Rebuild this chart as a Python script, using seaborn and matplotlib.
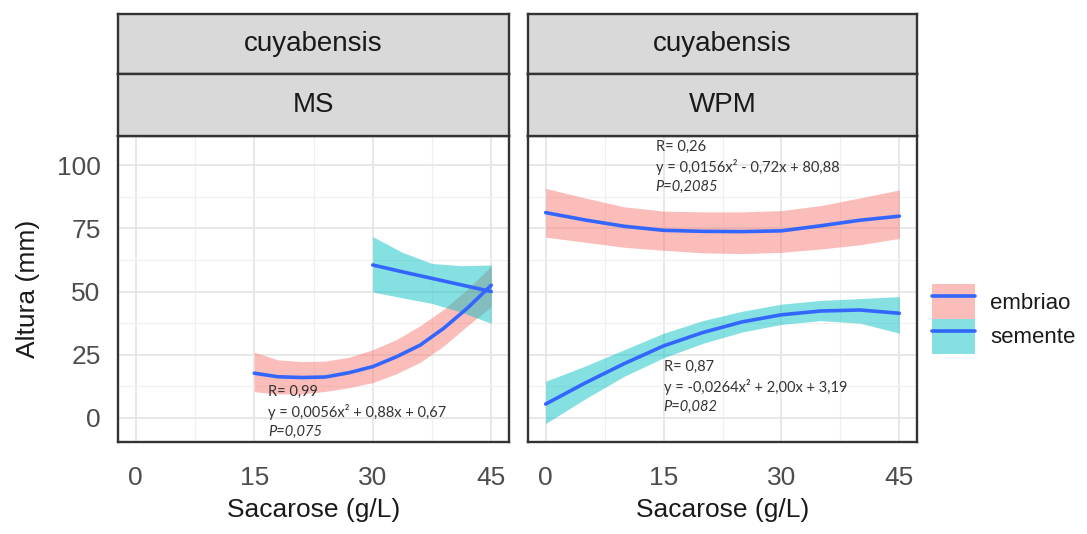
import numpy as np
import pandas as pd
import seaborn as sns
import matplotlib
matplotlib.use("Agg")
import matplotlib.pyplot as plt
from matplotlib.patches import Patch
from matplotlib.lines import Line2D
from matplotlib.legend_handler import HandlerTuple

# ---------------- data ----------------
species = "cuyabensis"
media = ["MS", "WPM"]
groups = ["embriao", "semente"]

ms_emb_x = [15, 18, 21, 24, 27, 30, 33, 36, 39, 42, 45]
ms_emb_y = [17.7, 16.3, 16.0, 16.2, 17.9, 20.3, 24.2, 28.8, 35.5, 43.5, 52.5]
ms_emb_lo = [10.4, 9.5, 9.5, 10.5, 12.0, 14.0, 17.5, 22.0, 28.5, 36.5, 44.0]
ms_emb_hi = [26.0, 23.0, 22.3, 22.5, 24.0, 27.0, 31.0, 36.5, 43.0, 51.0, 60.0]

ms_sem_x = [30, 33.75, 37.5, 41.25, 45]
ms_sem_y = [60.5, 57.8, 55.2, 52.6, 50.0]
ms_sem_lo = [49.8, 47.5, 45.3, 41.8, 37.4]
ms_sem_hi = [71.7, 65.5, 61.1, 60.2, 60.5]

wpm_emb_x = [0, 5, 10, 15, 20, 25, 30, 35, 40, 45]
wpm_emb_y = [81.2, 78.3, 75.8, 74.2, 73.8, 73.7, 74.0, 76.0, 78.2, 79.8]
wpm_emb_lo = [71.5, 69.5, 67.5, 66.3, 65.3, 65.0, 65.5, 66.8, 68.5, 71.0]
wpm_emb_hi = [90.8, 87.0, 83.5, 81.8, 81.5, 81.5, 82.0, 84.0, 87.0, 90.2]

wpm_sem_x = [0, 5, 10, 15, 20, 25, 30, 35, 40, 45]
wpm_sem_y = [5.5, 13.8, 21.5, 28.5, 33.8, 38.0, 40.8, 42.3, 42.7, 41.4]
wpm_sem_lo = [-2.2, 7.5, 16.5, 23.8, 29.5, 34.0, 37.0, 38.5, 37.5, 33.5]
wpm_sem_hi = [14.5, 20.5, 27.0, 33.5, 38.5, 42.2, 45.0, 46.5, 47.2, 48.0]

x_ticks = [0, 15, 30, 45]
y_ticks = [0, 25, 50, 75, 100]

annotations = {
    "MS": [("R= 0,99", "y = 0,0056x² + 0,88x + 0,67", "P=0,075", 16.8, 10.4)],
    "WPM": [("R= 0,26", "y = 0,0156x² - 0,72x + 80,88", "P=0,2085", 14.0, 107.2),
            ("R= 0,87", "y = -0,0264x² + 2,00x + 3,19", "P=0,082", 15.0, 20.3)],
}

# ---------------- tidy frame ----------------
def block(med, grp, x, y, lo, hi):
    return pd.DataFrame({"meio": med, "grupo": grp, "x": x, "y": y, "lo": lo, "hi": hi})

df = pd.concat([
    block("MS", "embriao", ms_emb_x, ms_emb_y, ms_emb_lo, ms_emb_hi),
    block("MS", "semente", ms_sem_x, ms_sem_y, ms_sem_lo, ms_sem_hi),
    block("WPM", "embriao", wpm_emb_x, wpm_emb_y, wpm_emb_lo, wpm_emb_hi),
    block("WPM", "semente", wpm_sem_x, wpm_sem_y, wpm_sem_lo, wpm_sem_hi),
], ignore_index=True)

# ---------------- style ----------------
sns.set_theme(style="white")
plt.rcParams["font.family"] = ["Liberation Sans", "DejaVu Sans"]

fill_colors = {"embriao": "#F8766D", "semente": "#00BFC4"}
fill_alpha = 0.48
line_color = "#3366FF"
border_color = "#333333"

W, H = 1087, 534
fig = plt.figure(figsize=(W / 100, H / 100), dpi=100)

def fx(px):
    return px / W

def fy(py):
    return 1 - py / H

panel_px = {"MS": (118, 509), "WPM": (528, 917)}
p_top, p_bot = 136, 442
strip1 = (14, 74)
strip2 = (74, 136)

xlim = (-2.25, 47.25)
ylim = (-9.5, 111.5)

for i, med in enumerate(media):
    x0, x1 = panel_px[med]
    ax = fig.add_axes([fx(x0), fy(p_bot), fx(x1 - x0), (p_bot - p_top) / H])
    sub = df[df["meio"] == med]
    for grp in groups:
        g = sub[sub["grupo"] == grp]
        ax.fill_between(g["x"], g["lo"], g["hi"], color=fill_colors[grp],
                        alpha=fill_alpha, linewidth=0, zorder=2)
    sns.lineplot(data=sub, x="x", y="y", units="grupo", estimator=None,
                 color=line_color, linewidth=2.6, ax=ax, zorder=3, legend=False)

    ax.set_xlim(*xlim)
    ax.set_ylim(*ylim)
    ax.set_xticks(x_ticks)
    ax.set_yticks(y_ticks)
    ax.set_xticks([7.5, 22.5, 37.5], minor=True)
    ax.set_yticks([12.5, 37.5, 62.5, 87.5], minor=True)
    ax.grid(True, which="major", color="#E4E4E4", linewidth=1.2, zorder=0)
    ax.grid(True, which="minor", color="#F0F0F0", linewidth=0.9, zorder=0)
    ax.set_axisbelow(True)
    for s in ax.spines.values():
        s.set_color(border_color)
        s.set_linewidth(1.7)
        s.set_visible(True)
    ax.tick_params(axis="both", which="major", length=7.5, width=1.4,
                   color=border_color, labelcolor="#4D4D4D", labelsize=19,
                   direction="out")
    ax.tick_params(axis="x", which="major", pad=10)
    ax.tick_params(axis="y", which="major", pad=5)
    ax.tick_params(axis="both", which="minor", length=0)
    ax.set_xticklabels([str(t) for t in x_ticks])
    ax.set_xlabel("Sacarose (g/L)", fontsize=19, color="#1A1A1A")
    ax.xaxis.set_label_coords(0.5, (p_bot - 498) / (p_bot - p_top))
    if i == 0:
        ax.set_yticklabels([str(t) for t in y_ticks])
        ax.set_ylabel("Altura (mm)", fontsize=19, color="#1A1A1A")
        ax.yaxis.set_label_coords((40 - x0) / (x1 - x0), 0.5)
    else:
        ax.set_ylabel("")
        ax.tick_params(axis="y", which="both", left=False, labelleft=False)

    # annotations
    for r, eq, p, ax_x, ax_y in annotations[med]:
        step = 7.9
        kw = dict(fontsize=10.5, color="#333333", va="center",
                  family=["Lato", "DejaVu Sans"], zorder=5)
        ax.text(ax_x, ax_y, r, **kw)
        ax.text(ax_x, ax_y - step, eq, **kw)
        ax.text(ax_x, ax_y - 2 * step, p, style="italic", **kw)

    # strips
    for (t0, t1), label in [(strip1, species), (strip2, med)]:
        sax = fig.add_axes([fx(x0), fy(t1), fx(x1 - x0), (t1 - t0) / H])
        sax.set_facecolor("#D9D9D9")
        sax.set_xticks([])
        sax.set_yticks([])
        for s in sax.spines.values():
            s.set_color(border_color)
            s.set_linewidth(1.7)
        sax.text(0.5, 0.5, label, ha="center", va="center", fontsize=20,
                 color="#1A1A1A", transform=sax.transAxes)

# legend
handles = [(Patch(facecolor=fill_colors[g], alpha=fill_alpha, edgecolor="none"),
            Line2D([], [], color=line_color, linewidth=2.6)) for g in groups]
fig.legend(handles, groups, handler_map={tuple: HandlerTuple(ndivide=1)},
           loc="center left", bbox_to_anchor=(fx(932), fy(319)),
           frameon=False, fontsize=16, handlelength=1.94, handleheight=2.03,
           labelspacing=0, handletextpad=0.68, borderpad=0, borderaxespad=0,
           labelcolor="#1A1A1A")

fig.savefig("out.png", dpi=100, facecolor="white")
